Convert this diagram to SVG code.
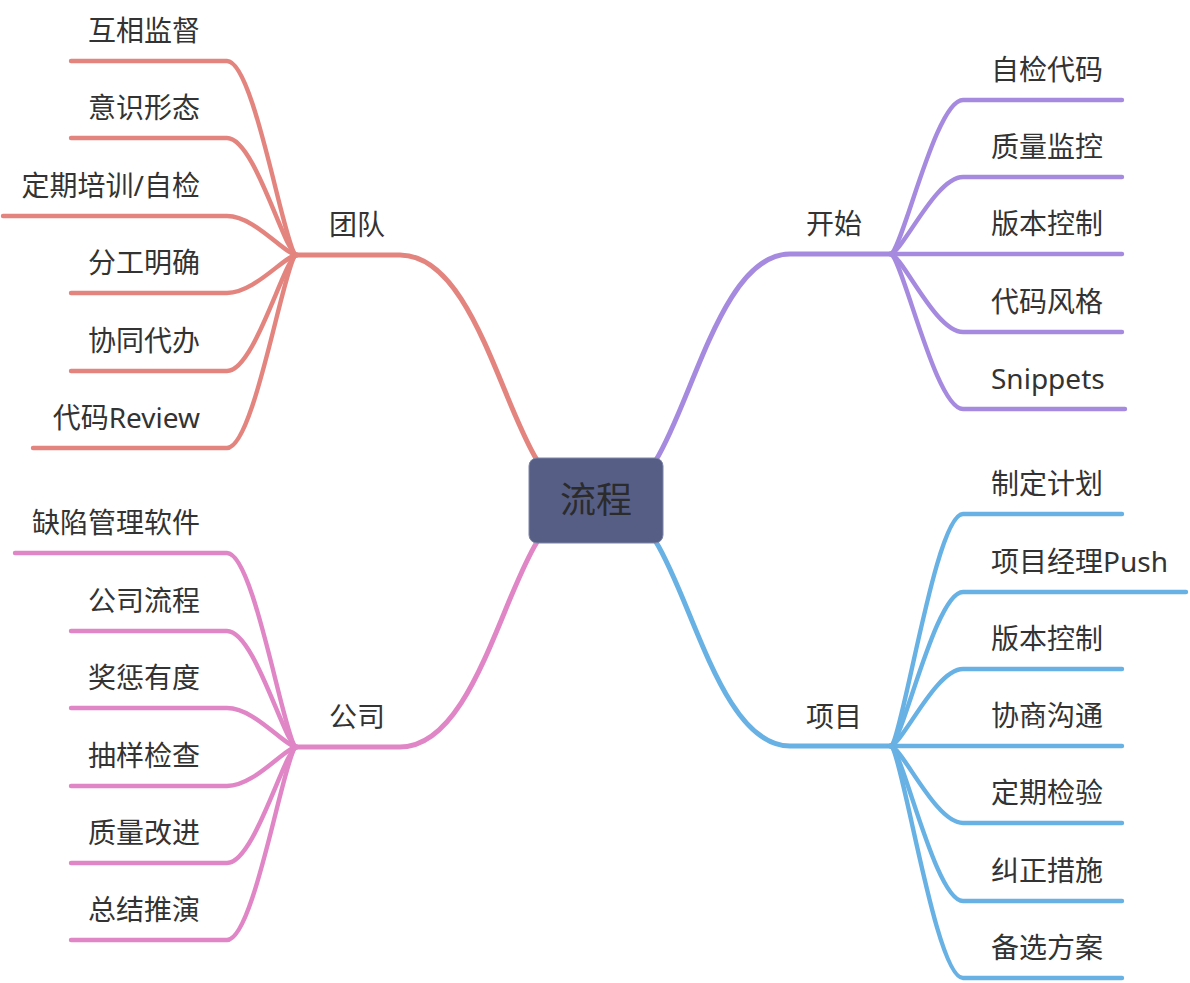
<svg xmlns="http://www.w3.org/2000/svg" width="1190" height="983" viewBox="0 0 1190 983">
<style>
.t{font-family:"Noto Sans","Noto Sans CJK SC",sans-serif;font-size:28px;fill:#333}
.l{text-anchor:end}
.c{fill:none;stroke-linecap:round;stroke-linejoin:round}
.m{stroke-width:5}
.s{stroke-width:4.4}
.red{stroke:#e4847f}
.pur{stroke:#a58ae0}
.pnk{stroke:#e085c6}
.blu{stroke:#67b1e4}
</style>
<rect width="1190" height="983" fill="#fff"/>
<g id="connectors">
<!-- main branches -->
<path class="c m red" d="M537 460 C500 400 470 255 400 255 L297 255"/>
<path class="c m pur" d="M656 460 C693 400 723 254 790 254 L890 254"/>
<path class="c m pnk" d="M537 542 C500 602 470 747 400 747 L297 747"/>
<path class="c m blu" d="M656 542 C693 602 723 746 790 746 L890 746"/>
<!-- 团队 children -->
<g class="c s red">
<path d="M297 255 C285 255 255 61 227 61 L71 61"/>
<path d="M297 255 C285 255 255 138 227 138 L71 138"/>
<path d="M297 255 C285 255 255 216 227 216 L3 216"/>
<path d="M297 255 C285 255 255 293 227 293 L71 293"/>
<path d="M297 255 C285 255 255 371 227 371 L71 371"/>
<path d="M297 255 C285 255 255 448 227 448 L33 448"/>
</g>
<!-- 公司 children -->
<g class="c s pnk">
<path d="M297 747 C285 747 255 553 227 553 L15 553"/>
<path d="M297 747 C285 747 255 631 227 631 L71 631"/>
<path d="M297 747 C285 747 255 708 227 708 L71 708"/>
<path d="M297 747 C285 747 255 786 227 786 L71 786"/>
<path d="M297 747 C285 747 255 863 227 863 L71 863"/>
<path d="M297 747 C285 747 255 940 227 940 L71 940"/>
</g>
<!-- 开始 children -->
<g class="c s pur">
<path d="M890 254 C902 254 935 100 963 100 L1122 100"/>
<path d="M890 254 C902 254 935 177 963 177 L1122 177"/>
<path d="M890 254 L1122 254"/>
<path d="M890 254 C902 254 935 332 963 332 L1122 332"/>
<path d="M890 254 C902 254 935 409 963 409 L1125 409"/>
</g>
<!-- 项目 children -->
<g class="c s blu">
<path d="M890 746 C902 746 935 514 963 514 L1122 514"/>
<path d="M890 746 C902 746 935 592 963 592 L1186 592"/>
<path d="M890 746 C902 746 935 669 963 669 L1122 669"/>
<path d="M890 746 L1122 746"/>
<path d="M890 746 C902 746 935 823 963 823 L1122 823"/>
<path d="M890 746 C902 746 935 901 963 901 L1122 901"/>
<path d="M890 746 C902 746 935 978 963 978 L1122 978"/>
</g>
</g>
<g id="root">
<rect x="529" y="458" width="134" height="85" rx="8" fill="#575e86" stroke="#7d84a6" stroke-width="1"/>
<text class="t" x="596" y="513" text-anchor="middle" style="font-size:36px;fill:#2b2b2b">流程</text>
</g>
<g id="team"><text class="t" x="329" y="235">团队</text></g>
<g id="team-1"><text class="t l" x="200" y="41">互相监督</text></g>
<g id="team-2"><text class="t l" x="200" y="118">意识形态</text></g>
<g id="team-3"><text class="t l" x="200" y="196">定期培训/自检</text></g>
<g id="team-4"><text class="t l" x="200" y="273">分工明确</text></g>
<g id="team-5"><text class="t l" x="200" y="351">协同代办</text></g>
<g id="team-6"><text class="t l" x="200" y="428">代码Review</text></g>
<g id="company"><text class="t" x="329" y="727">公司</text></g>
<g id="company-1"><text class="t l" x="200" y="533">缺陷管理软件</text></g>
<g id="company-2"><text class="t l" x="200" y="611">公司流程</text></g>
<g id="company-3"><text class="t l" x="200" y="688">奖惩有度</text></g>
<g id="company-4"><text class="t l" x="200" y="766">抽样检查</text></g>
<g id="company-5"><text class="t l" x="200" y="843">质量改进</text></g>
<g id="company-6"><text class="t l" x="200" y="920">总结推演</text></g>
<g id="start"><text class="t" x="806" y="234">开始</text></g>
<g id="start-1"><text class="t" x="991" y="80">自检代码</text></g>
<g id="start-2"><text class="t" x="991" y="157">质量监控</text></g>
<g id="start-3"><text class="t" x="991" y="234">版本控制</text></g>
<g id="start-4"><text class="t" x="991" y="312">代码风格</text></g>
<g id="start-5"><text class="t" x="991" y="389">Snippets</text></g>
<g id="project"><text class="t" x="806" y="727">项目</text></g>
<g id="project-1"><text class="t" x="991" y="494">制定计划</text></g>
<g id="project-2"><text class="t" x="991" y="572">项目经理Push</text></g>
<g id="project-3"><text class="t" x="991" y="649">版本控制</text></g>
<g id="project-4"><text class="t" x="991" y="726">协商沟通</text></g>
<g id="project-5"><text class="t" x="991" y="803">定期检验</text></g>
<g id="project-6"><text class="t" x="991" y="881">纠正措施</text></g>
<g id="project-7"><text class="t" x="991" y="958">备选方案</text></g>
</svg>
